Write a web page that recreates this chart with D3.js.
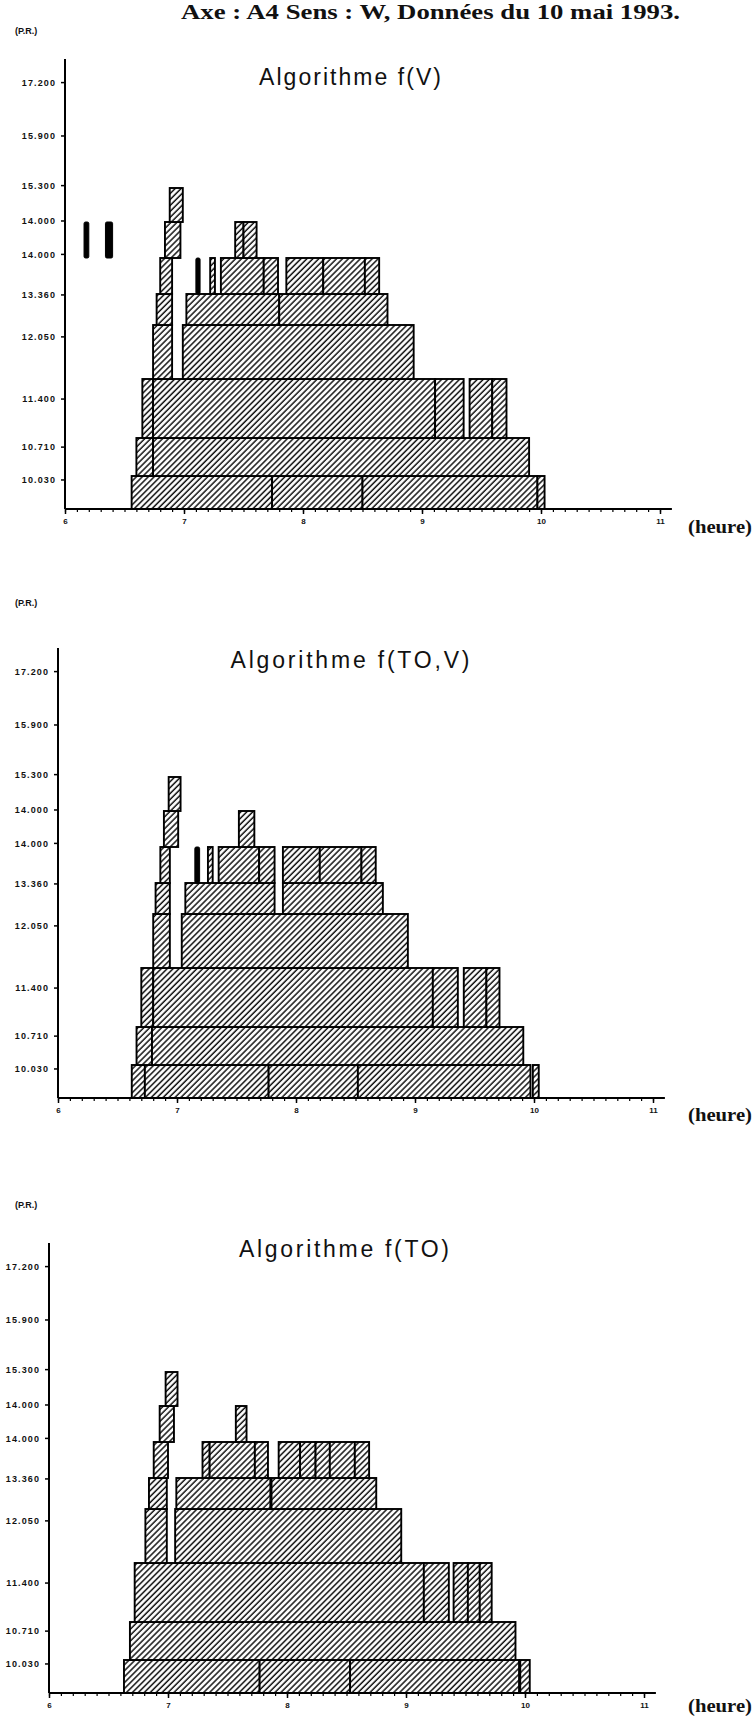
<!DOCTYPE html>
<html>
<head>
<meta charset="utf-8">
<script src="https://cdn.jsdelivr.net/npm/d3@7"></script>
<style>
  body { margin: 0; background: #fff; }
  svg { display: block; }
</style>
</head>
<body>
<svg id="chart" width="755" height="1719"></svg>
<script>
// ---- Data ---------------------------------------------------------------
const heading = "Axe : A4  Sens : W, Données du 10 mai 1993.";
const hourTicks = [6, 7, 8, 9, 10, 11];
// P.R. markers along the road, bottom to top
const prLabels = ["10.030", "10.710", "11.400", "12.050", "13.360", "14.000", "14.000", "15.300", "15.900", "17.200"];
// where each marker sits, counted in road sections from the bottom
const prTickRow = [0.88, 1.76, 2.66, 3.78, 4.97, 6.1, 7.03, 8.07, 9.53, 11.1];

// Detected queues: [section (0 = bottom), start hour, end hour]
const queuesV = [
  [0, 6.56, 7.74], [0, 7.74, 8.50], [0, 8.50, 9.97], [0, 9.97, 10.03],
  [1, 6.60, 6.74], [1, 6.74, 9.90],
  [2, 6.65, 6.74], [2, 6.74, 9.11], [2, 9.11, 9.35], [2, 9.40, 9.59], [2, 9.59, 9.71],
  [3, 6.74, 6.90], [3, 6.99, 8.93],
  [4, 6.77, 6.90], [4, 7.02, 7.80], [4, 7.80, 8.71],
  [5, 6.80, 6.90], [5, 7.22, 7.26], [5, 7.31, 7.67], [5, 7.67, 7.79], [5, 7.86, 8.17], [5, 8.17, 8.52], [5, 8.52, 8.64],
  [6, 6.84, 6.97], [6, 7.43, 7.50], [6, 7.50, 7.61],
  [7, 6.88, 6.99]
];
const marksV = [[5, 7.10, 7.135], [6, 6.16, 6.20], [6, 6.34, 6.40]];

const queuesTOV = [
  [0, 6.62, 6.73], [0, 6.73, 7.77], [0, 7.77, 8.52], [0, 8.52, 9.97], [0, 9.99, 10.04],
  [1, 6.66, 6.79], [1, 6.79, 9.91],
  [2, 6.70, 6.80], [2, 6.80, 9.15], [2, 9.15, 9.36], [2, 9.41, 9.60], [2, 9.60, 9.71],
  [3, 6.80, 6.94], [3, 7.04, 8.94],
  [4, 6.82, 6.94], [4, 7.07, 7.82], [4, 7.89, 8.73],
  [5, 6.86, 6.94], [5, 7.26, 7.30], [5, 7.35, 7.69], [5, 7.69, 7.82], [5, 7.89, 8.20], [5, 8.20, 8.55], [5, 8.55, 8.67],
  [6, 6.89, 7.01], [6, 7.52, 7.65],
  [7, 6.93, 7.03]
];
const marksTOV = [[5, 7.15, 7.19]];

const queuesTO = [
  [0, 6.63, 7.77], [0, 7.77, 8.53], [0, 8.53, 9.95], [0, 9.96, 10.04],
  [1, 6.68, 9.92],
  [2, 6.72, 9.15], [2, 9.15, 9.36], [2, 9.40, 9.52], [2, 9.52, 9.62], [2, 9.62, 9.72],
  [3, 6.81, 6.99], [3, 7.06, 8.96],
  [4, 6.84, 6.99], [4, 7.07, 7.86], [4, 7.87, 8.75],
  [5, 6.88, 7.00], [5, 7.29, 7.35], [5, 7.35, 7.73], [5, 7.73, 7.84], [5, 7.93, 8.11], [5, 8.11, 8.24], [5, 8.24, 8.36], [5, 8.36, 8.57], [5, 8.57, 8.69],
  [6, 6.93, 7.05], [6, 7.57, 7.66],
  [7, 6.98, 7.08]
];
const marksTO = [];

// ---- Layout -------------------------------------------------------------
const pxPerHour = 119;
const sectionEdges = [0, 33, 71, 130, 184, 215, 251, 287, 321]; // px above the time axis
const axisHeight = 450;

const panels = [
  { title: "Algorithme f(V)",    queues: queuesV,   marks: marksV,   x0: 65, base: 509,  titleX: 350, titleY: 85,   titleLen: 182, unitY: 34,   heureY: 533 },
  { title: "Algorithme f(TO,V)", queues: queuesTOV, marks: marksTOV, x0: 58, base: 1098, titleX: 350, titleY: 668,  titleLen: 239, unitY: 606,  heureY: 1121 },
  { title: "Algorithme f(TO)",   queues: queuesTO,  marks: marksTO,  x0: 49, base: 1693, titleX: 344, titleY: 1257, titleLen: 210, unitY: 1208, heureY: 1712 }
];

const svg = d3.select("#chart");
const defs = svg.append("defs");
const step = 4.2;
const hatch = defs.append("pattern")
  .attr("id", "hatch")
  .attr("patternUnits", "userSpaceOnUse")
  .attr("width", step).attr("height", step)
  .attr("patternTransform", "rotate(45)");
hatch.append("rect").attr("width", step).attr("height", step).attr("fill", "#fff");
hatch.append("line")
  .attr("x1", 1).attr("x2", 1).attr("y1", 0).attr("y2", step)
  .attr("stroke", "#111").attr("stroke-width", 1.5);

// Page heading (bold serif)
svg.append("text")
  .attr("x", 181).attr("y", 19)
  .attr("textLength", 499).attr("lengthAdjust", "spacingAndGlyphs")
  .attr("font-family", "'Liberation Serif', 'DejaVu Serif', serif")
  .attr("font-weight", "bold").attr("font-size", 22)
  .attr("fill", "#111")
  .text(heading);

panels.forEach(p => {
  const g = svg.append("g");
  const x = d3.scaleLinear().domain([6, 11]).range([p.x0, p.x0 + 5 * pxPerHour]);
  const y = d3.scaleLinear()
    .domain(d3.range(sectionEdges.length))
    .range(sectionEdges.map(e => p.base - e));

  // queues
  g.append("g").selectAll("rect")
    .data(p.queues)
    .join("rect")
    .attr("x", d => x(d[1]))
    .attr("width", d => x(d[2]) - x(d[1]))
    .attr("y", d => y(d[0] + 1))
    .attr("height", d => y(d[0]) - y(d[0] + 1))
    .attr("fill", "url(#hatch)")
    .attr("stroke", "#000")
    .attr("stroke-width", 1.9);

  // solid marks
  g.append("g").selectAll("rect")
    .data(p.marks)
    .join("rect")
    .attr("x", d => x(d[1]))
    .attr("width", d => x(d[2]) - x(d[1]))
    .attr("y", d => y(d[0] + 1))
    .attr("height", d => y(d[0]) - y(d[0] + 1))
    .attr("rx", 1.5)
    .attr("fill", "#000")
    .attr("stroke", "#000")
    .attr("stroke-width", 1);

  // time axis
  const xAxis = d3.axisBottom(x)
    .tickValues(d3.range(60, 111).map(v => v / 10))
    .tickSize(3)
    .tickFormat("");
  const xa = g.append("g").attr("transform", `translate(0,${p.base})`).call(xAxis);
  xa.select(".domain").remove();
  xa.selectAll(".tick line").attr("stroke", "#000").attr("stroke-width", 1.2);
  g.append("line")
    .attr("x1", x(6)).attr("x2", x(11.1))
    .attr("y1", p.base).attr("y2", p.base)
    .attr("stroke", "#000").attr("stroke-width", 2);
  const xl = g.append("g").attr("transform", `translate(0,${p.base})`)
    .call(d3.axisBottom(x).tickValues(hourTicks).tickSize(5).tickFormat(d3.format("d")));
  xl.select(".domain").remove();
  xl.selectAll(".tick line").attr("stroke", "#000").attr("stroke-width", 1.5);
  xl.selectAll(".tick text")
    .attr("y", 9)
    .attr("font-family", "'Liberation Sans', Arial, sans-serif")
    .attr("font-weight", "bold").attr("font-size", 8).attr("fill", "#111");

  g.append("text")
    .attr("x", 688).attr("y", p.heureY)
    .attr("textLength", 64).attr("lengthAdjust", "spacingAndGlyphs")
    .attr("font-family", "'Liberation Serif', 'DejaVu Serif', serif")
    .attr("font-weight", "bold").attr("font-size", 19).attr("fill", "#111")
    .text("(heure)");

  // P.R. axis
  g.append("line")
    .attr("x1", x(6)).attr("x2", x(6))
    .attr("y1", p.base).attr("y2", p.base - axisHeight)
    .attr("stroke", "#000").attr("stroke-width", 2);
  const ticks = g.append("g").selectAll("g")
    .data(prLabels.map((label, i) => ({ label, at: prTickRow[i] })))
    .join("g")
    .attr("transform", d => `translate(${x(6)},${y(d.at)})`);
  ticks.append("line").attr("x1", -4).attr("x2", 0).attr("stroke", "#000").attr("stroke-width", 1.5);
  ticks.append("text")
    .attr("x", -9).attr("dy", "0.35em")
    .attr("text-anchor", "end")
    .attr("font-family", "'Liberation Sans', Arial, sans-serif")
    .attr("font-weight", "bold").attr("font-size", 9)
    .attr("letter-spacing", 1.1)
    .attr("fill", "#111")
    .text(d => d.label);

  g.append("text")
    .attr("x", 15).attr("y", p.unitY)
    .attr("font-family", "'Liberation Sans', Arial, sans-serif")
    .attr("font-weight", "bold").attr("font-size", 9).attr("fill", "#111")
    .text("(P.R.)");

  // panel title
  g.append("text")
    .attr("x", p.titleX).attr("y", p.titleY)
    .attr("text-anchor", "middle")
    .attr("textLength", p.titleLen).attr("lengthAdjust", "spacing")
    .attr("font-family", "'Liberation Sans', Arial, sans-serif")
    .attr("font-size", 23).attr("fill", "#111")
    .text(p.title);
});
</script>
</body>
</html>
